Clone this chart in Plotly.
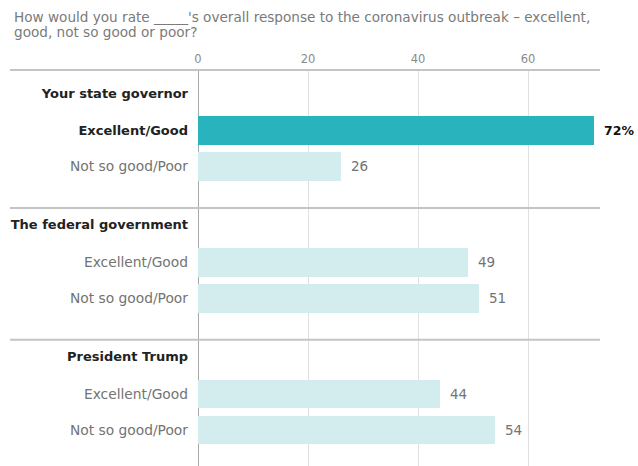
import plotly.graph_objects as go

# Survey results (percent)
groups = ["Your state governor", "The federal government", "President Trump"]
answers = ["Excellent/Good", "Not so good/Poor"]
governor = [72, 26]
federal = [49, 51]
trump = [44, 54]
x_ticks = [0, 20, 40, 60]

subtitle_lines = [
    "How would you rate _____'s overall response to the coronavirus outbreak \u2013 excellent,",
    "good, not so good or poor?",
]

W, H = 638, 466
M_L, M_R, M_T, M_B = 198, 38, 70, 0
FONT = "DejaVu Sans"
TEAL = "#29b3bd"
LIGHT = "#d3edef"
DARK = "#222222"
GREY = "#737373"

period = 3.66          # rows per group block
series = [governor, federal, trump]
plot_w_px = W - M_L - M_R
plot_h_px = H - M_T - M_B

fig = go.Figure()

tickvals, ticktext = [], []
annotations = []
shapes = []

for g, (name, vals) in enumerate(zip(groups, series)):
    base = g * period
    header_row = base - 0.05
    tickvals.append(header_row)
    ticktext.append(f"<b><span style='color:{DARK};font-size:13px'>{name}</span></b>")
    rows = [base + 1 + i for i in range(len(vals))]
    highlight = [g == 0 and i == 0 for i in range(len(vals))]
    colors = [TEAL if h else LIGHT for h in highlight]
    fig.add_trace(go.Bar(
        x=vals, y=rows, orientation="h", width=0.8,
        marker=dict(color=colors, line=dict(width=0)),
        hoverinfo="skip", showlegend=False,
    ))
    for i, (ans, v, r, h) in enumerate(zip(answers, vals, rows, highlight)):
        tickvals.append(r)
        if h:
            ticktext.append(f"<b><span style='color:{DARK};font-size:13px'>{ans}</span></b>")
            label = f"<b>{v}%</b>"
            col = "#111111"
            size = 12.5
        else:
            ticktext.append(f"<span style='color:{GREY}'>{ans}</span>")
            label = f"{v}"
            col = GREY
            size = 13.5
        annotations.append(dict(
            x=v, y=r, xref="x", yref="y", text=label, showarrow=False,
            xanchor="left", yanchor="middle", xshift=8,
            font=dict(family=FONT, size=size, color=col),
        ))
    if g < len(groups) - 1:
        shapes.append(dict(
            type="line", xref="paper", yref="y",
            x0=(10 - M_L) / plot_w_px, x1=1,
            y0=base + 3.15, y1=base + 3.15,
            line=dict(color="#c4c4c4", width=2), layer="above",
        ))

# rule under the axis labels
shapes.append(dict(
    type="line", xref="paper", yref="paper",
    x0=(10 - M_L) / plot_w_px, x1=1, y0=1, y1=1,
    line=dict(color="#c4c4c4", width=2), layer="above",
))

# question text, one annotation per line
for k, line in enumerate(subtitle_lines):
    y_px = 17 + 15 * k
    annotations.append(dict(
        x=(12 - M_L) / plot_w_px, y=(H - M_B - y_px) / plot_h_px,
        xref="paper", yref="paper", text=line, showarrow=False,
        xanchor="left", yanchor="middle", align="left",
        font=dict(family=FONT, size=13.6, color="#7a7a7a"),
    ))

fig.update_layout(
    width=W, height=H,
    margin=dict(l=M_L, r=M_R, t=M_T, b=M_B, pad=0),
    plot_bgcolor="white", paper_bgcolor="white",
    bargap=0,
    annotations=annotations,
    shapes=shapes,
    xaxis=dict(
        side="top", range=[0, plot_w_px / 5.5],
        tickvals=x_ticks, ticktext=[str(t) for t in x_ticks],
        showgrid=True, gridcolor="#e0e0e0", gridwidth=1,
        zeroline=True, zerolinecolor="#a8a8a8", zerolinewidth=1,
        showline=False, ticks="",
        tickfont=dict(family=FONT, size=11.5, color="#8a8a8a"),
        ticklabelstandoff=4, fixedrange=True,
    ),
    yaxis=dict(
        range=[10.32, -0.68],
        tickvals=tickvals, ticktext=ticktext,
        showgrid=False, zeroline=False, showline=False, ticks="",
        tickfont=dict(family=FONT, size=13.8, color=GREY),
        ticklabelstandoff=9, fixedrange=True,
    ),
)

fig.write_html("out.html")
